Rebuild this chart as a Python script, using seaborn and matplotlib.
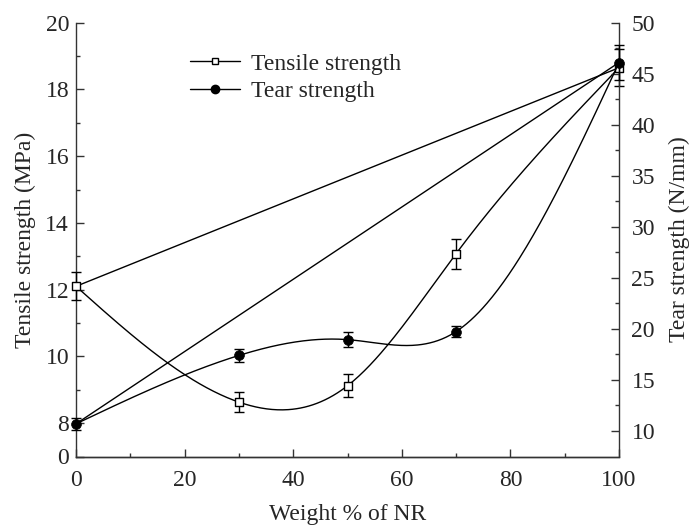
import numpy as np
import pandas as pd
import matplotlib
matplotlib.use("Agg")
import matplotlib.pyplot as plt
from matplotlib.lines import Line2D
from matplotlib.ticker import FixedLocator, MultipleLocator
import seaborn as sns

# Blend composition and measured properties
nr_weight = [0, 30, 50, 70, 100]
tensile = [12.1, 8.63, 9.12, 13.08, 18.65]
tensile_err = [0.42, 0.31, 0.34, 0.45, 0.55]
tear = [10.7, 17.4, 18.95, 19.74, 46.1]
tear_err = [0.6, 0.6, 0.7, 0.5, 1.7]

left_ticks = [7, 8, 10, 12, 14, 16, 18, 20]
left_tick_labels = ["0", "8", "10", "12", "14", "16", "18", "20"]
right_ticks = [10, 15, 20, 25, 30, 35, 40, 45, 50]
x_ticks = [0, 20, 40, 60, 80, 100]


def natural_spline(x, y, xs):
    x = np.asarray(x, float)
    y = np.asarray(y, float)
    n = len(x)
    h = np.diff(x)
    A = np.zeros((n, n))
    b = np.zeros(n)
    A[0, 0] = 1
    A[-1, -1] = 1
    for i in range(1, n - 1):
        A[i, i - 1] = h[i - 1]
        A[i, i] = 2 * (h[i - 1] + h[i])
        A[i, i + 1] = h[i]
        b[i] = 3 * ((y[i + 1] - y[i]) / h[i] - (y[i] - y[i - 1]) / h[i - 1])
    c = np.linalg.solve(A, b)
    out = np.empty_like(xs)
    for k, xv in enumerate(xs):
        i = min(np.searchsorted(x, xv, side="right") - 1, n - 2)
        i = max(i, 0)
        dx = xv - x[i]
        bi = (y[i + 1] - y[i]) / h[i] - h[i] * (2 * c[i] + c[i + 1]) / 3
        di = (c[i + 1] - c[i]) / (3 * h[i])
        out[k] = y[i] + bi * dx + c[i] * dx ** 2 + di * dx ** 3
    return out


sns.set_theme(style="ticks")
FS = 17
plt.rcParams.update({
    "font.family": ["Liberation Serif", "DejaVu Serif"],
    "font.size": FS,
    "axes.labelsize": FS,
    "xtick.labelsize": FS,
    "ytick.labelsize": FS,
    "legend.fontsize": FS,
    "axes.linewidth": 1.0,
    "axes.edgecolor": "#333333",
})

fig = plt.figure(figsize=(6.92, 5.31), dpi=100)
ax = fig.add_axes([76 / 692, 1 - 456.5 / 531, 543 / 692, 433.8 / 531])
ax2 = ax.twinx()

xs = np.linspace(0, 100, 400)
curve_t = pd.DataFrame({"x": xs, "y": natural_spline(nr_weight, tensile, xs)})
curve_r = pd.DataFrame({"x": xs, "y": natural_spline(nr_weight, tear, xs)})
chord_t = pd.DataFrame({"x": [nr_weight[0], nr_weight[-1]], "y": [tensile[0], tensile[-1]]})
chord_r = pd.DataFrame({"x": [nr_weight[0], nr_weight[-1]], "y": [tear[0], tear[-1]]})

lw = 1.0
sns.lineplot(data=curve_t, x="x", y="y", ax=ax, color="black", lw=lw, zorder=2)
sns.lineplot(data=chord_t, x="x", y="y", ax=ax, color="black", lw=lw, zorder=2)
sns.lineplot(data=curve_r, x="x", y="y", ax=ax2, color="black", lw=lw, zorder=2)
sns.lineplot(data=chord_r, x="x", y="y", ax=ax2, color="black", lw=lw, zorder=2)

ax.errorbar(nr_weight, tensile, yerr=tensile_err, fmt="none", ecolor="black",
            elinewidth=1.0, capsize=3.5, capthick=1.0, zorder=3, clip_on=False)
ax2.errorbar(nr_weight, tear, yerr=tear_err, fmt="none", ecolor="black",
             elinewidth=1.0, capsize=3.5, capthick=1.0, zorder=3, clip_on=False)

pts_t = pd.DataFrame({"x": nr_weight, "y": tensile})
pts_r = pd.DataFrame({"x": nr_weight, "y": tear})
sns.scatterplot(data=pts_t, x="x", y="y", ax=ax, marker="s", s=30,
                facecolor="white", edgecolor="black", linewidth=1.0, zorder=4, clip_on=False)
sns.scatterplot(data=pts_r, x="x", y="y", ax=ax2, marker="o", s=50,
                color="black", edgecolor="black", linewidth=0.5, zorder=5, clip_on=False)

ax.set_xlim(0, 100)
ax.set_ylim(7, 20)
ax2.set_ylim(7.5, 50)

ax.xaxis.set_major_locator(FixedLocator(x_ticks))
ax.xaxis.set_minor_locator(MultipleLocator(10))
ax.yaxis.set_major_locator(FixedLocator(left_ticks))
ax.set_yticklabels(left_tick_labels)
ax.yaxis.set_minor_locator(FixedLocator([9, 11, 13, 15, 17, 19]))
ax2.yaxis.set_major_locator(FixedLocator(right_ticks))
ax2.yaxis.set_minor_locator(FixedLocator([12.5, 17.5, 22.5, 27.5, 32.5, 37.5, 42.5, 47.5]))

for a in (ax, ax2):
    a.spines["top"].set_visible(False)
    a.tick_params(which="major", direction="in", length=6, width=1.0, color="#333333")
    a.tick_params(which="minor", direction="in", length=3, width=1.0, color="#333333")
ax.spines["right"].set_visible(False)
ax2.spines["left"].set_visible(False)
ax.tick_params(axis="y", pad=5)
ax.tick_params(axis="x", pad=10)
ax2.tick_params(axis="y", pad=9)

ax.set_xlabel("Weight % of NR", labelpad=9)
ax.set_ylabel("Tensile strength (MPa)", labelpad=7)
ax2.set_ylabel("Tear strength (N/mm)", labelpad=10)

handles = [
    Line2D([], [], color="black", lw=1.0, marker="s", markersize=5,
           markerfacecolor="white", markeredgecolor="black"),
    Line2D([], [], color="black", lw=1.0, marker="o", markersize=6,
           markerfacecolor="black", markeredgecolor="black"),
]
ax2.legend(handles, ["Tensile strength", "Tear strength"], loc="upper left",
           bbox_to_anchor=(0.21, 0.93), frameon=False, borderpad=0,
           handlelength=2.1, handletextpad=0.5, labelspacing=0.25, borderaxespad=0)

fig.savefig("out.png", dpi=100)
